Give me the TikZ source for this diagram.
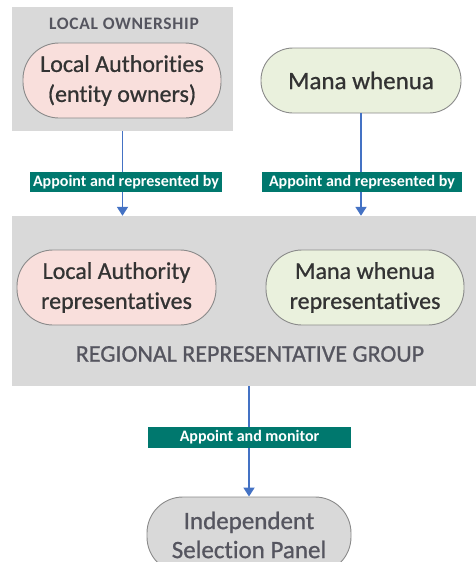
\documentclass[tikz,border=0pt]{standalone}
\usepackage{fontspec}
\setmainfont{Carlito}[Ligatures=NoCommon]
\newfontfamily\pillfont{Carlito}[Ligatures=NoCommon,FakeBold=0.8]
\newfontfamily\headfont{Carlito}[Ligatures=NoCommon,LetterSpace=4]
\usetikzlibrary{arrows.meta}
\definecolor{boxgray}{HTML}{D9D9D9}
\definecolor{pinkfill}{HTML}{F9DFDC}
\definecolor{greenfill}{HTML}{EAF1DD}
\definecolor{pillborder}{HTML}{8A8A8A}
\definecolor{tealbg}{HTML}{00786E}
\definecolor{arrblue}{HTML}{4472C4}
\definecolor{txtdark}{HTML}{333333}
\definecolor{txtgray}{HTML}{55555F}
\begin{document}
\begin{tikzpicture}[x=1pt,y=-1pt,
  groupbox/.style={draw=none,fill=boxgray,inner sep=0pt},
  pill/.style={draw=pillborder,line width=0.9pt,rounded corners=36pt,inner sep=0pt,
    align=center,font=\pillfont\fontsize{24}{30}\selectfont,text=txtdark},
  tag/.style={fill=tealbg,text=white,inner sep=0pt,font=\bfseries\fontsize{16}{18}\selectfont},
  arr/.style={draw=arrblue,line width=1.8pt,-{Triangle[length=9pt,width=11pt]}},
  head/.style={text=txtgray,font=\headfont\bfseries\fontsize{17.5}{19}\selectfont},
]
\useasboundingbox (0,0) rectangle (476,562);
\begin{scope}
\clip (0,0) rectangle (476,562);
% group boxes
\node[groupbox,minimum width=221pt,minimum height=124pt] (lo) at (122.5,69) {};
\node[groupbox,minimum width=468pt,minimum height=170pt] (rrg) at (246,301) {};
\node[head] (lohead) at (124,24) {LOCAL OWNERSHIP};
% pills
\node[pill,fill=pinkfill,minimum width=198pt,minimum height=75pt] (la) at (122,80.5)
  {Local Authorities\\(entity owners)};
\node[pill,fill=greenfill,minimum width=200pt,minimum height=65pt,rounded corners=32pt,
  font=\pillfont\fontsize{25}{30}\selectfont] (mw) at (361,80.5)
  {Mana whenua};
\node[pill,fill=pinkfill,minimum width=199pt,minimum height=75pt] (lar) at (116.5,287.5)
  {Local Authority\\representatives};
\node[pill,fill=greenfill,minimum width=198pt,minimum height=75pt] (mwr) at (365,287.5)
  {Mana whenua\\representatives};
\node[text=txtgray,font=\pillfont\fontsize{24}{26}\selectfont] (rrgtxt) at (250,354)
  {REGIONAL REPRESENTATIVE GROUP};
\node[pill,fill=boxgray,minimum width=204pt,minimum height=76pt,text=txtgray,
  font=\pillfont\fontsize{25}{29}\selectfont] (isp) at (249,535)
  {Independent\\Selection Panel};
% arrows
\draw[arr] (lo.south) -- (lo.south |- rrg.north);
\draw[arr] (mw.south) -- (mw.south |- rrg.north);
\draw[arr] (isp.north |- rrg.south) -- (isp.north);
% labels
\node[tag,minimum width=192pt,minimum height=20pt] (t1) at (126,182) {Appoint and represented by};
\node[tag,minimum width=200pt,minimum height=20pt] (t2) at (362,182) {Appoint and represented by};
\node[tag,minimum width=203pt,minimum height=21pt] (t3) at (249.5,437.5) {Appoint and monitor};
\end{scope}
\end{tikzpicture}
\end{document}
